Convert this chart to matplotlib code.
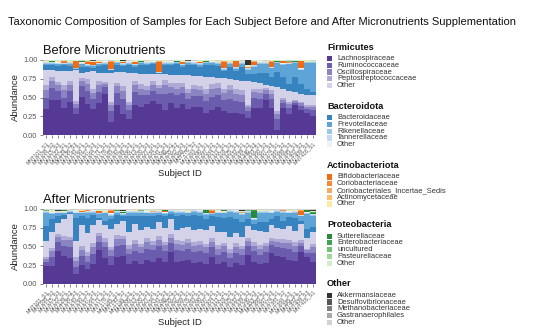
import matplotlib
matplotlib.use("Agg")
import matplotlib.pyplot as plt
from matplotlib.patches import Rectangle
import numpy as np

plt.rcParams['font.family'] = ['Liberation Sans', 'DejaVu Sans']

# subject ids (one bar per subject)
subjects = ["MNT%03d_S%d" % (101 + 7 * i, 1 + i % 3) for i in range(46)]

# ---- Before micronutrients (percent, per subject) ----
# Firmicutes
b_lachno = [35,47,48,36,44,28,52,42,35,43, 55,18,40,28,22,40,37,42,45,42, 33,43,36,42,35,38,38,30,34,38, 32,30,30,28,23,36,36,47,36,7, 36,28,40,33,30,26]
b_rumino = [15,16,12,14,15,8,14,17,13,16, 9,14,16,20,12,17,16,12,14,13, 22,14,17,14,13,15,14,16,17,16, 15,19,16,16,9,14,13,8,12,14, 7,9,3,6,5,8]
b_oscillo = [10,9,8,10,9,5,8,10,8,9, 5,8,9,10,6,10,9,7,8,8, 12,8,9,8,8,9,8,9,10,9, 9,11,9,10,5,7,8,5,7,7, 4,5,2,4,3,4]
b_pepto = [8,6,4,7,5,4,4,6,6,5, 3,5,5,7,5,5,6,5,5,5, 7,5,7,6,6,6,5,7,7,7, 6,8,7,6,3,5,5,3,5,4, 3,3,2,2,2,2]
b_firm_other = [20,9,15,19,13,41,7,10,23,12, 12,39,14,18,38,11,14,16,10,14, 7,11,11,10,18,11,14,16,10,7, 14,7,12,13,32,9,8,5,6,32, 12,14,10,10,14,13]
# Bacteroidota
b_bacteroid = [6,6,7,8,7,1,8,6,5,9, 10,3,9,8,11,8,11,12,13,1, 12,13,15,11,14,15,12,15,16,16, 9,17,12,18,10,10,14,16,12,20, 16,10,20,14,8,5]
b_prevotel = [2,2,2,1,3,0,3,2,2,2, 2,0,3,2,2,2,3,2,1,0, 2,2,1,2,2,2,3,3,2,3, 2,4,3,5,5,10,12,12,11,12, 16,26,19,18,34,38]
b_rikenel = [1,1,1,1,1,1,1,1,1,1, 1,1,1,1,1,1,1,1,1,1, 1,1,1,1,1,1,1,1,1,1, 1,1,1,1,1,1,1,1,1,1, 1,1,1,1,1,1]
b_tannerel = [1,1,1,1,1,1,1,1,1,1, 1,1,1,1,1,1,1,1,1,1, 1,1,1,1,1,1,1,1,1,1, 1,1,1,1,1,1,1,1,1,1, 1,1,1,1,1,1]
b_bact_other = [0,0,1,0,0,0,1,0,0,0, 1,0,0,0,1,0,0,0,1,0, 0,1,0,0,0,1,0,0,1,0, 0,0,1,0,0,0,1,0,0,0, 1,0,0,1,0,0]
# Actinobacteriota
b_bifido = [0,1,0,1,0,9,0,3,4,1, 0,9,0,2,0,3,0,0,0,13, 0,0,0,3,0,0,2,0,0,0, 9,0,7,0,0,5,0,0,7,0, 2,0,0,9,0,0]
b_corio = [0,0,0,1,0,0,0,0,0,0, 0,0,0,0,0,0,0,0,0,0, 1,0,0,0,0,0,0,0,0,0, 0,0,0,0,2,0,0,0,0,0, 0,1,0,0,0,0]
b_corio_is = [0,0,0,0,0,0,0,1,0,0, 0,1,0,0,0,0,0,0,0,1, 0,0,0,0,0,0,0,0,0,0, 1,0,1,0,0,1,0,0,1,0, 0,0,0,1,0,0]
b_actino = [0,0,0,0,0,0,0,0,0,0, 0,0,0,0,0,0,0,0,0,0, 0,0,0,0,0,0,0,0,0,0, 0,0,0,0,0,0,0,0,0,0, 0,0,0,0,0,0]
b_act_other = [1,0,1,0,1,0,0,1,0,1, 0,0,1,0,0,1,0,1,0,0, 1,0,0,1,0,0,1,0,0,1, 0,1,0,0,1,0,0,1,0,0, 1,0,0,0,1,0]
# Proteobacteria
b_sutter = [0,1,1,0,0,0,1,0,0,0, 1,0,0,0,0,0,1,0,0,0, 0,0,1,0,0,0,0,1,0,0, 0,1,0,0,0,0,1,0,0,1, 0,0,1,0,0,0]
b_entero = [0,0,0,0,0,0,0,0,0,0, 0,0,0,0,0,0,0,0,0,0, 0,0,0,0,0,0,0,0,0,0, 0,0,0,0,0,0,0,0,0,0, 0,0,0,0,0,0]
b_uncult = [0,0,0,0,1,0,0,0,0,0, 0,0,0,0,0,0,0,0,0,1, 0,0,0,0,0,0,0,0,0,0, 0,0,0,0,0,0,0,0,0,0, 0,1,0,0,0,0]
b_pasteur = [0,0,0,0,0,0,0,0,0,0, 0,0,0,0,0,0,0,0,0,0, 0,0,0,0,0,0,0,0,0,0, 0,0,0,0,0,0,0,0,0,0, 0,0,0,0,0,0]
b_prot_other = [1,1,1,1,1,1,1,1,1,1, 1,1,1,1,1,1,1,1,1,1, 1,1,1,1,1,1,1,1,1,1, 1,1,1,1,1,1,1,1,1,1, 1,1,1,1,1,1]
# Other phyla
b_akker = [0,0,0,0,0,0,0,0,0,0, 0,0,0,1,0,0,0,0,0,0, 0,0,0,0,0,0,0,0,0,0, 0,0,0,0,7,0,0,0,0,0, 0,0,0,0,0,0]
b_desulfo = [0,0,0,0,0,0,0,0,1,0, 0,0,0,0,0,0,0,0,0,0, 0,0,0,0,1,0,0,0,0,0, 0,0,0,1,0,0,0,0,0,0, 0,0,0,0,0,0]
b_methano = [0,0,0,0,0,0,0,0,0,0, 0,0,0,0,0,0,0,0,0,0, 0,0,0,0,0,0,0,0,0,0, 0,0,0,0,0,0,0,0,0,0, 0,0,0,0,0,0]
b_gastran = [0,0,0,0,0,0,0,0,0,0, 0,0,0,0,0,0,0,0,0,0, 0,0,0,0,0,0,0,0,0,0, 0,0,0,0,0,0,0,0,0,0, 0,0,0,0,0,0]
b_oth_other = [1,0,0,1,0,0,1,0,0,1, 0,1,0,0,1,0,0,1,0,0, 0,1,0,0,0,1,0,0,0,1, 0,0,0,1,0,0,0,1,0,0, 0,1,0,0,0,1]

# ---- After micronutrients ----
a_lachno = [24,24,44,38,35,13,25,20,26,45, 36,25,36,38,27,30,27,32,30,34, 30,42,30,30,33,28,30,27,36,27, 30,22,28,25,38,30,26,28,42,37, 36,32,30,42,36,30]
a_rumino = [6,12,12,14,14,10,12,10,14,12, 14,12,16,14,13,14,14,16,15,16, 14,12,15,14,14,14,15,14,13,12, 13,12,14,14,12,14,13,14,10,12, 12,14,13,8,6,12]
a_oscillo = [4,8,7,8,9,8,8,8,9,7, 8,8,9,8,8,9,8,9,8,9, 8,7,9,8,9,9,9,8,8,8, 8,7,8,8,7,8,8,8,6,7, 7,8,8,5,4,7]
a_pepto = [2,5,4,5,5,5,5,5,5,4, 5,5,5,5,5,5,5,5,5,5, 5,5,5,5,5,5,5,5,5,5, 5,5,5,5,4,5,5,5,4,5, 5,5,5,3,2,5]
a_firm_other = [22,22,14,24,30,22,28,26,24,18, 18,24,16,20,18,22,18,16,16,18, 18,20,14,18,16,16,16,18,16,18, 14,16,14,12,16,16,18,14,18,14, 14,18,14,22,14,16]
a_bacteroid = [20,18,10,5,2,32,12,20,14,3, 6,14,12,6,22,11,20,15,18,10, 16,7,19,17,16,20,19,16,13,20, 20,27,19,20,10,8,12,14,8,16, 11,12,18,4,13,7]
a_prevotel = [18,6,3,2,1,6,4,7,3,5, 10,4,3,2,4,4,4,3,3,3, 3,3,4,3,3,4,4,5,3,5, 6,7,8,10,8,6,13,12,7,6, 11,5,7,6,20,15]
a_rikenel = [1,1,1,1,1,1,1,1,1,1, 1,1,1,1,1,1,1,1,1,1, 1,1,1,1,1,1,1,1,1,1, 1,1,1,1,1,1,1,1,1,1, 1,1,1,1,1,1]
a_tannerel = [1,1,1,1,1,1,1,1,1,1, 1,1,1,1,1,1,1,1,1,1, 1,1,1,1,1,1,1,1,1,1, 1,1,1,1,1,1,1,1,1,1, 1,1,1,1,1,1]
a_bact_other = [0,1,0,0,0,1,0,0,1,0, 0,1,0,0,1,0,0,1,0,0, 1,0,0,1,0,0,1,0,0,1, 0,0,1,0,0,1,0,0,1,0, 0,1,0,0,1,0]
a_bifido = [0,0,0,0,0,0,1,0,0,2, 0,3,0,0,0,0,0,0,0,0, 1,0,0,0,0,0,0,0,2,0, 0,0,0,1,0,0,0,0,0,0, 0,0,0,5,0,0]
a_corio = [0,0,0,0,0,0,0,1,0,0, 0,0,0,1,0,0,0,0,0,0, 0,0,0,0,0,0,0,1,0,0, 0,0,0,0,0,0,0,0,0,0, 1,0,0,0,0,0]
a_corio_is = [0,0,0,0,0,0,0,0,0,0, 0,1,0,0,0,0,0,0,1,0, 0,0,0,0,0,0,0,0,1,0, 0,0,0,1,0,0,0,0,0,0, 0,0,0,1,0,0]
a_actino = [0,0,0,0,0,0,0,0,0,0, 0,0,0,0,0,0,0,0,0,0, 0,0,0,0,0,0,0,0,0,0, 0,0,0,0,0,0,0,0,0,0, 0,0,0,0,0,0]
a_act_other = [0,1,0,1,0,0,1,0,0,0, 1,0,0,0,0,1,0,0,0,1, 0,0,0,0,1,0,0,0,0,0, 1,0,0,0,0,0,1,0,0,0, 0,0,1,0,0,0]
a_sutter = [0,0,0,1,0,0,0,0,0,0, 0,0,0,1,0,0,0,0,0,0, 1,0,0,0,0,0,0,3,0,0, 1,0,0,0,0,9,0,0,0,0, 0,0,0,0,2,2]
a_entero = [0,0,0,0,0,0,0,0,0,0, 0,0,1,0,0,0,0,0,0,0, 0,0,0,0,0,0,0,0,0,0, 0,0,0,0,0,1,0,0,0,0, 0,0,0,0,0,1]
a_uncult = [1,0,0,0,0,0,0,0,0,0, 0,0,0,0,0,0,1,0,0,0, 0,0,0,0,0,0,0,0,0,0, 0,0,0,0,1,0,0,0,0,0, 0,0,0,0,0,0]
a_pasteur = [0,0,0,0,0,0,0,0,0,0, 0,0,0,0,0,0,0,0,0,0, 0,0,0,0,0,0,0,0,0,0, 0,0,0,0,0,0,0,0,0,0, 0,0,0,0,0,0]
a_prot_other = [1,1,1,1,1,1,1,1,1,1, 1,1,1,1,1,1,1,1,1,1, 1,1,1,1,1,1,1,1,1,1, 1,1,1,1,1,1,1,1,1,1, 1,1,1,1,1,1]
a_akker = [0,0,2,0,0,0,0,0,0,1, 0,0,0,2,0,0,0,0,1,0, 0,0,0,0,1,0,0,0,0,0, 0,0,0,2,0,0,0,1,0,0, 0,1,0,0,0,2]
a_desulfo = [0,1,0,0,0,1,0,0,0,0, 1,0,0,0,0,0,0,1,0,0, 0,0,1,0,0,0,0,0,0,1, 0,0,0,0,0,0,0,0,1,0, 0,0,0,0,0,0]
a_methano = [0,0,0,0,0,0,0,0,0,0, 0,0,0,0,0,0,0,0,0,0, 0,0,0,0,0,0,0,0,0,0, 0,0,0,0,0,0,0,0,0,0, 0,0,0,0,0,0]
a_gastran = [0,0,0,0,0,0,0,0,0,0, 0,0,0,0,0,0,0,0,0,0, 0,0,0,0,0,0,0,0,0,0, 0,0,0,0,0,0,0,0,0,0, 0,0,0,0,0,0]
a_oth_other = [1,1,1,1,1,1,1,1,1,1, 1,1,1,1,1,1,1,1,1,1, 1,1,1,1,1,1,1,1,1,1, 1,1,1,1,1,1,1,1,1,1, 1,1,1,1,1,1]

# legend groups: phylum -> families, with shades dark to light
phyla = ["Firmicutes", "Bacteroidota", "Actinobacteriota", "Proteobacteria", "Other"]
families = [
    ["Lachnospiraceae", "Ruminococcaceae", "Oscillospiraceae", "Peptostreptococcaceae", "Other"],
    ["Bacteroidaceae", "Prevotellaceae", "Rikenellaceae", "Tannerellaceae", "Other"],
    ["Bifidobacteriaceae", "Coriobacteriaceae", "Coriobacteriales_Incertae_Sedis", "Actinomycetaceae", "Other"],
    ["Sutterellaceae", "Enterobacteriaceae", "uncultured", "Pasteurellaceae", "Other"],
    ["Akkermansiaceae", "Desulfovibrionaceae", "Methanobacteriaceae", "Gastranaerophilales", "Other"],
]
shades = [
    ["#553995", "#6c5cad", "#8a84c3", "#aeaad6", "#d3d2e9"],
    ["#3683c0", "#5ea4d6", "#9bc8e4", "#c6dbef", "#e9f1f9"],
    ["#f06b12", "#f7893a", "#f9a862", "#fbbf6e", "#fde9a6"],
    ["#2a8a3c", "#41a453", "#72c071", "#a0d79a", "#d2eccc"],
    ["#333333", "#555555", "#7f7f7f", "#a8a8a8", "#d2d2d2"],
]

before = [b_lachno, b_rumino, b_oscillo, b_pepto, b_firm_other,
          b_bacteroid, b_prevotel, b_rikenel, b_tannerel, b_bact_other,
          b_bifido, b_corio, b_corio_is, b_actino, b_act_other,
          b_sutter, b_entero, b_uncult, b_pasteur, b_prot_other,
          b_akker, b_desulfo, b_methano, b_gastran, b_oth_other]
after = [a_lachno, a_rumino, a_oscillo, a_pepto, a_firm_other,
         a_bacteroid, a_prevotel, a_rikenel, a_tannerel, a_bact_other,
         a_bifido, a_corio, a_corio_is, a_actino, a_act_other,
         a_sutter, a_entero, a_uncult, a_pasteur, a_prot_other,
         a_akker, a_desulfo, a_methano, a_gastran, a_oth_other]
colors = [c for grp in shades for c in grp]

W, H = 554, 333
fig = plt.figure(figsize=(W / 100, H / 100), dpi=100)
fig.patch.set_facecolor("white")


def px(x, y):
    return x / W, 1 - y / H


def stacked_panel(rect, data, title):
    ax = fig.add_axes(rect)
    vals = np.array(data, dtype=float)
    vals = vals / vals.sum(axis=0)  # relative abundance
    x = np.arange(vals.shape[1])
    bottom = np.zeros(vals.shape[1])
    for row, col in zip(vals, colors):
        ax.bar(x, row, bottom=bottom, width=1.0, color=col, linewidth=0)
        bottom += row
    ax.set_xlim(-0.5, len(x) - 0.5)
    ax.set_ylim(0, 1)
    ax.set_yticks([0, 0.25, 0.5, 0.75, 1.0])
    ax.set_yticklabels(["0.00", "0.25", "0.50", "0.75", "1.00"])
    ax.set_xticks(x)
    ax.set_xticklabels(subjects, rotation=45, ha="right", rotation_mode="anchor",
                       fontsize=3.8, color="#7a7a7a")
    ax.tick_params(axis="y", labelsize=5.3, colors="#555555", length=2.5, width=0.5, pad=1.5)
    ax.tick_params(axis="x", colors="#555555", length=2.5, width=0.5, pad=1.5)
    for s in ax.spines.values():
        s.set_visible(False)
    ax.set_ylabel("Abundance", fontsize=6.8, color="#222222", labelpad=2)
    ax.set_xlabel("Subject ID", fontsize=6.8, color="#222222", labelpad=3)
    ax.set_title(title, fontsize=9.3, loc="left", color="#111111", pad=4)
    return ax


x0, x1 = px(43, 0)[0], px(316, 0)[0]
stacked_panel([x0, 1 - 135 / H, x1 - x0, 75 / H], before, "Before Micronutrients")
stacked_panel([x0, 1 - 283.7 / H, x1 - x0, 74.7 / H], after, "After Micronutrients")

fig.text(*px(8, 22), "Taxonomic Composition of Samples for Each Subject Before and After Micronutrients Supplementation",
         fontsize=8.0, color="#111111", va="center", ha="left")

# grouped legend on the right
for g, (phylum, fams, cols) in enumerate(zip(phyla, families, shades)):
    y_head = 47 + 59.2 * g
    fig.text(*px(327, y_head), phylum, fontsize=6.6, fontweight="bold",
             color="#111111", va="center", ha="left")
    for k, (fam, col) in enumerate(zip(fams, cols)):
        y = y_head + 11.5 + 6.75 * k
        lx, ly = px(327, y + 2.6)
        fig.add_artist(Rectangle((lx, ly), 4.5 / W, 5.2 / H, transform=fig.transFigure,
                                 facecolor=col, edgecolor="none"))
        fig.text(*px(337, y), fam, fontsize=5.4, color="#333333", va="center", ha="left")

fig.savefig("out.png", dpi=100, facecolor="white")
